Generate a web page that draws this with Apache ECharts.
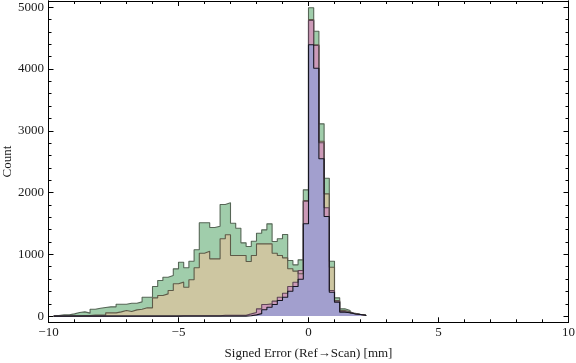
<!DOCTYPE html>
<html><head><meta charset="utf-8">
<script src="https://cdn.jsdelivr.net/npm/echarts@6/dist/echarts.min.js"></script>
<style>html,body{margin:0;padding:0;background:#fff}#c{width:576px;height:363px}</style>
</head><body><div id="c"></div>
<script>
const binEdges = [-9.8,-9.6,-9.4,-9.2,-9.0,-8.8,-8.6,-8.4,-8.2,-8.0,-7.8,-7.6,-7.4,-7.2,-7.0,-6.8,-6.6,-6.4,-6.2,-6.0,-5.8,-5.6,-5.4,-5.2,-5.0,-4.8,-4.6,-4.4,-4.2,-4.0,-3.8,-3.6,-3.4,-3.2,-3.0,-2.8,-2.6,-2.4,-2.2,-2.0,-1.8,-1.6,-1.4,-1.2,-1.0,-0.8,-0.6,-0.4,-0.2,0.0,0.2,0.4,0.6,0.8,1.0,1.2,1.4,1.6,1.8,2.0,2.2];
const greenCounts = [10,20,20,36,58,69,48,112,128,139,150,150,193,193,209,209,231,306,306,479,576,630,657,765,873,782,889,1073,1510,1510,1434,1455,1806,1834,1504,1423,1186,1126,1212,1342,1396,1493,1207,1251,1321,900,830,911,2044,4990,4611,3112,2232,889,296,118,91,47,30,20];
const tanCounts = [0,2,3,5,5,10,10,16,16,16,53,53,69,91,75,101,112,134,134,296,333,360,414,523,550,468,588,782,1018,1050,927,927,1251,1316,981,981,981,884,981,1170,1170,1170,1018,981,943,766,728,685,1870,4800,4390,2831,1979,791,250,90,70,40,25,15];
const pinkCounts = [0,0,0,0,0,0,0,0,0,0,0,0,0,0,0,0,0,0,0,0,0,0,0,0,5,5,5,5,5,5,5,5,15,15,15,15,15,36,58,118,188,198,242,306,371,479,549,738,1860,4784,4380,2805,1753,414,240,75,60,38,25,15];
const blueCounts = [0,0,0,0,0,0,0,0,0,0,0,0,0,0,0,0,0,0,0,0,0,0,0,0,0,0,0,0,0,0,0,0,0,0,0,0,0,5,20,40,102,144,188,252,306,403,479,597,1494,4391,4012,2546,1612,387,225,63,55,35,25,15];
const xMajorTicks = [-10,-5,0,5,10];
const xMinorTicks = [-9,-8,-7,-6,-4,-3,-2,-1,1,2,3,4,6,7,8,9];
const yMajorTicks = [0,1000,2000,3000,4000,5000];
const yMinorTicks = [200,400,600,800,1200,1400,1600,1800,2200,2400,2600,2800,3200,3400,3600,3800,4200,4400,4600,4800];
const xTitle = 'Signed Error (Ref\u2192Scan) [mm]';
const yTitle = 'Count';

function steps(vals){
  const pts = [[binEdges[0], 0]];
  vals.forEach((v,i)=>pts.push([binEdges[i], v]));
  const n = vals.length;
  pts.push([binEdges[n], vals[n-1]]);
  pts.push([binEdges[n], 0]);
  return pts;
}
const FONT = 'Liberation Serif';
const lab = {fontFamily: FONT, fontSize: 13, color: '#1a1a1a'};
function mkAxis(kind, pos, ticks, len, showLabels, extra){
  const a = {
    type: 'value', position: pos,
    min: kind==='x' ? -10 : -100, max: kind==='x' ? 10 : 5100,
    axisLine: {show: true, onZero: false, lineStyle: {color: '#000', width: 1}},
    axisTick: {show: true, inside: true, length: len, customValues: ticks, lineStyle: {color: '#000', width: 1}},
    axisLabel: showLabels ? Object.assign({show: true, customValues: ticks, formatter: v => String(v).replace('-', '\u2212')}, lab, {margin: kind==='x' ? 4 : 4.5}) : {show: false},
    splitLine: {show: false}, minorTick: {show: false}
  };
  return Object.assign(a, extra || {});
}
const xAxes = [
  mkAxis('x','bottom',xMajorTicks,5,true,{name: xTitle, nameLocation:'middle', nameGap: 25, nameMoveOverlap: false, nameTextStyle:{fontFamily: FONT, fontSize: 13, color:'#1a1a1a'}}),
  mkAxis('x','bottom',xMinorTicks,3,false),
  mkAxis('x','top',xMajorTicks,5,false),
  mkAxis('x','top',xMinorTicks,3,false)
];
const yAxes = [
  mkAxis('y','left',yMajorTicks,5,true,{name: yTitle, nameLocation:'middle', nameGap: 34, nameRotate: 90, nameMoveOverlap: false, nameTextStyle:{fontFamily: FONT, fontSize: 13, color:'#1a1a1a'}}),
  mkAxis('y','left',yMinorTicks,3,false),
  mkAxis('y','right',yMajorTicks,5,false),
  mkAxis('y','right',yMinorTicks,3,false)
];
function ser(name, vals, fill, edge){
  return {name, type:'line', step:'end', data: steps(vals), symbol:'none', xAxisIndex:0, yAxisIndex:0,
    lineStyle:{color: edge, width: 1.1}, areaStyle:{color: fill, opacity: 1}, silent: true, animation: false};
}
const chart = echarts.init(document.getElementById('c'), null, {renderer:'canvas'});
chart.setOption({
  animation: false,
  backgroundColor: '#fff',
  grid: {left: 48.5, right: 7.5, top: 1, bottom: 40.7, containLabel: false, outerBoundsMode: 'none'},
  xAxis: xAxes, yAxis: yAxes,
  series: [
    ser('g', greenCounts, '#a0cdab', '#566656'),
    ser('t', tanCounts, '#cdc6a1', '#5e5a48'),
    ser('p', pinkCounts, '#cc9ab8', '#5e4656'),
    ser('b', blueCounts, '#a29fce', '#151520')
  ]
});
</script></body></html>
